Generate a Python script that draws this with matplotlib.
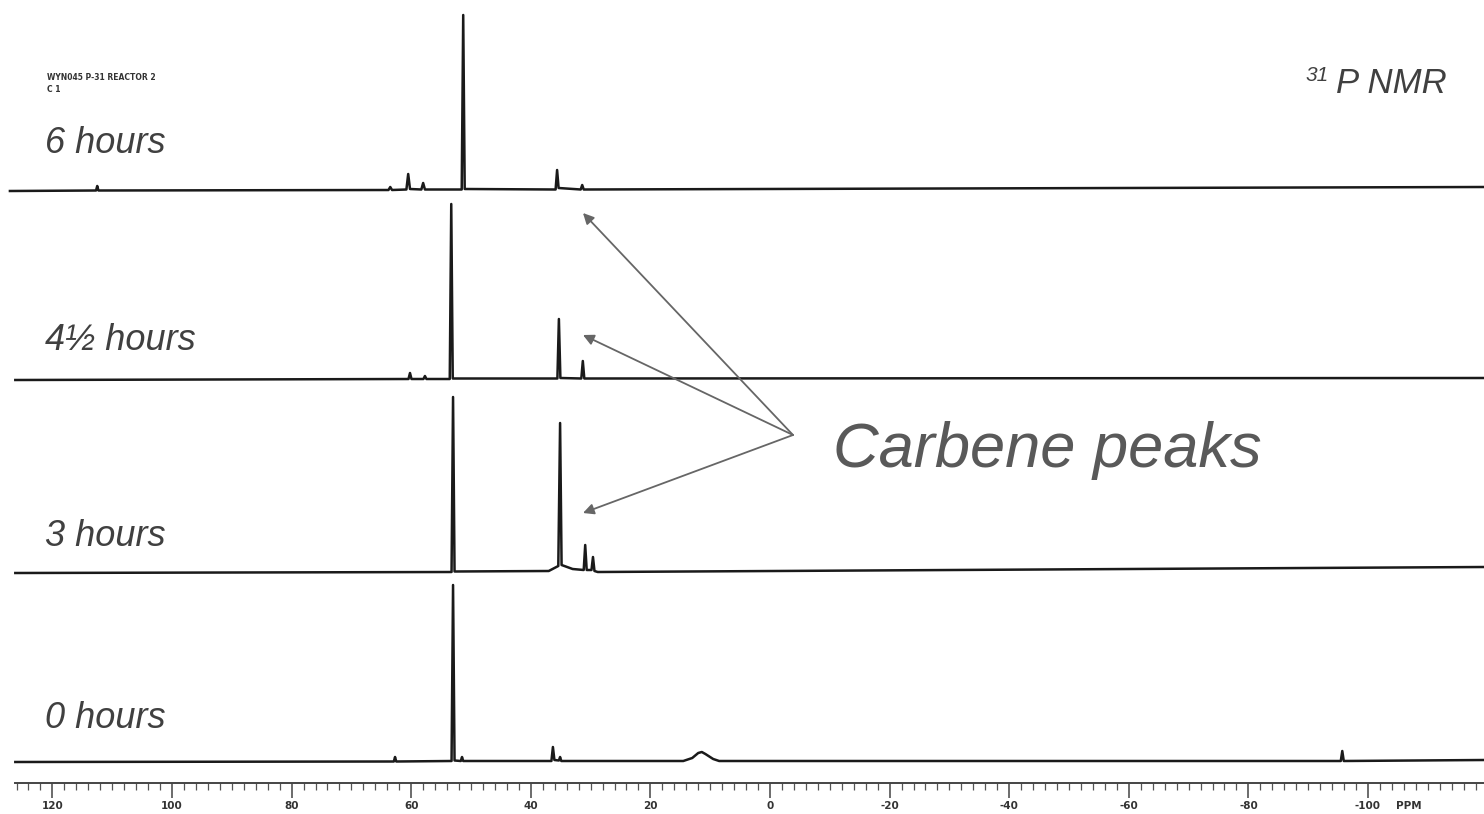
import matplotlib
matplotlib.use('Agg')
import matplotlib.pyplot as plt
from matplotlib.ticker import FixedLocator, MultipleLocator, FixedFormatter

# chemical shifts (ppm) and intensities above baseline for each trace
spec_6h_ppm = [127.1, 112.7, 112.5, 112.3, 63.8, 63.5, 63.2, 60.8, 60.5, 60.2, 58.3, 58.0, 57.7,
               51.55, 51.3, 51.05, 35.85, 35.6, 35.35, 31.65, 31.4, 31.15, -119.5]
spec_6h_int = [0, 0.5, 5, 0.5, 1, 4, 1, 1.5, 17, 2, 1.5, 8, 1.5,
               1.5, 176, 2, 1.5, 21, 3, 1.5, 6, 1.5, 4]

spec_45h_ppm = [126.2, 60.45, 60.2, 59.95, 57.95, 57.7, 57.45, 53.55, 53.3, 53.05,
                35.55, 35.3, 35.05, 31.55, 31.3, 31.05, -119.5]
spec_45h_int = [0, 1, 7, 1, 1, 4, 1, 1, 176, 1.5,
                1.5, 61, 2, 1.5, 19, 1.5, 2]

spec_3h_ppm = [126.2, 53.25, 53.0, 52.75, 37.0, 35.4, 35.1, 34.85, 33.0, 31.15, 30.9, 30.65,
               29.85, 29.6, 29.35, 28.8, -119.5]
spec_3h_int = [0, 1, 176, 1.5, 2, 7, 150, 8, 4, 3, 28, 3,
               3, 16, 2, 1, 6]

spec_0h_ppm = [126.2, 62.9, 62.7, 62.5, 53.25, 53.0, 52.75, 51.7, 51.5, 51.3, 36.55, 36.3, 36.05,
               35.3, 35.1, 34.9, 14.5, 13.0, 12.0, 11.4, 10.8, 9.5, 8.5,
               -95.45, -95.7, -95.95, -119.5]
spec_0h_int = [0, 0.5, 5, 0.5, 1, 177, 1.5, 1, 5, 1, 1, 15, 2,
               1.5, 5, 1, 1, 4, 9, 10, 8, 3, 1,
               1, 11, 1, 2]

time_labels = ['6 hours', '4½ hours', '3 hours', '0 hours']
tick_ppm = [120, 100, 80, 60, 40, 20, 0, -20, -40, -60, -80, -100, -120]
tick_text = ['120', '100', '80', '60', '40', '20', '0', '-20', '-40', '-60', '-80', '-100', '-120']

W, H = 1484, 814
fig = plt.figure(figsize=(W / 100, H / 100), dpi=100)
ax = fig.add_axes([0, 0, 1, 1])
ax.set_xlim(128.76, -119.4)
ax.set_ylim(0, H)


def px(x, y):
    return x / W, 1 - y / H


# stacked traces (baseline offsets in pixel units)
traces = [(spec_6h_ppm, spec_6h_int, 623),
          (spec_45h_ppm, spec_45h_int, 434),
          (spec_3h_ppm, spec_3h_int, 241),
          (spec_0h_ppm, spec_0h_int, 52)]
for ppm, inten, off in traces:
    ax.plot(ppm, [off + v for v in inten], color='#1a1a1a', lw=1.8, solid_joinstyle='round')

# ppm ruler at the bottom
for s in ['top', 'left', 'right']:
    ax.spines[s].set_visible(False)
ax.spines['bottom'].set_position(('data', 31))
ax.spines['bottom'].set_bounds(126.3, -119.4)
ax.spines['bottom'].set_color('#444444')
ax.spines['bottom'].set_linewidth(1.4)
ax.set_yticks([])
ax.xaxis.set_major_locator(FixedLocator(tick_ppm))
ax.xaxis.set_major_formatter(FixedFormatter(tick_text))
ax.xaxis.set_minor_locator(FixedLocator(list(range(126, -120, -2))))
ax.tick_params(axis='x', which='major', direction='out', length=11, width=1.1,
               color='#444444', labelsize=7.5, labelcolor='#333333', pad=2)
ax.tick_params(axis='x', which='minor', direction='out', length=5, width=0.9, color='#555555')
for lab in ax.get_xticklabels():
    lab.set_fontweight('bold')
fig.text(*px(1396, 806), 'PPM', fontsize=7.5, fontweight='bold', color='#333333',
         ha='left', va='center')

# labels
label_y = [153, 350, 546, 728]
for lab, y in zip(time_labels, label_y):
    fig.text(*px(45, y), lab, fontsize=26, style='italic', color='#404040',
             family='Liberation Sans', va='baseline', ha='left')

fig.text(*px(47, 80), 'WYN045 P-31 REACTOR 2', fontsize=5.5, fontweight='bold',
         color='#333333', va='baseline', ha='left')
fig.text(*px(47, 92), 'C 1', fontsize=5.5, fontweight='bold',
         color='#333333', va='baseline', ha='left')

fig.text(*px(1447, 93), 'P NMR', fontsize=25, style='italic', color='#404040',
         family='Liberation Sans', va='baseline', ha='right')
fig.text(*px(1329, 81), '31', fontsize=15, style='italic', color='#404040',
         family='Liberation Sans', va='baseline', ha='right')

fig.text(*px(833, 467), 'Carbene peaks', fontsize=45.5, style='italic', color='#595959',
         family='Liberation Sans', va='baseline', ha='left')

# arrows to carbene peaks
tail = px(793, 435)
for tip in [(583, 213), (583, 335), (583, 513)]:
    ax.annotate('', xy=px(*tip), xycoords='figure fraction',
                xytext=tail, textcoords='figure fraction',
                arrowprops=dict(arrowstyle='-|>', color='#666666', lw=1.3,
                                mutation_scale=16, shrinkA=0, shrinkB=0))

fig.savefig('out.png', dpi=100)
